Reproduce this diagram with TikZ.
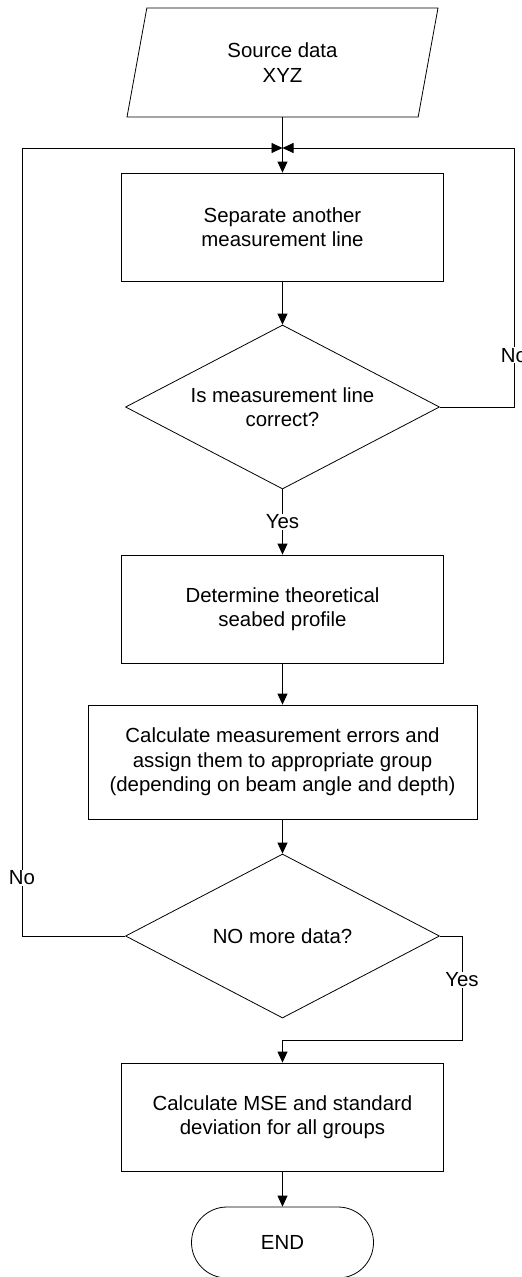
\documentclass[tikz,border=0pt]{standalone}
\usepackage{fontspec}
\setmainfont{Liberation Sans}
\usetikzlibrary{arrows.meta, shapes.geometric}

\begin{document}
\begin{tikzpicture}[x=1pt,y=-1pt,
        every node/.style={font=\fontsize{20.4}{24.5}\selectfont,align=center},
        proc/.style={rectangle,draw,line width=0.8pt,inner sep=0pt,
                     minimum width=322pt,minimum height=108pt},
        decision/.style={diamond,aspect=1.91,draw,line width=0.8pt,inner sep=0pt,
                         minimum width=314pt,minimum height=164pt},
        io/.style={trapezium,trapezium left angle=63.2,trapezium right angle=116.8,
                   trapezium stretches body,draw,line width=0.8pt,inner sep=0pt,
                   minimum width=311pt,minimum height=109pt},
        term/.style={rectangle,rounded corners=35.5pt,draw,line width=0.8pt,
                     inner sep=0pt,minimum width=182pt,minimum height=71pt},
        flow/.style={draw,line width=0.8pt,-{Triangle[length=11pt,width=10pt]}},
        lbl/.style={fill=white,inner sep=1pt}
      ]
        \useasboundingbox (0,0) rectangle (522,1277);
        \node[io] (src) at (282.5,62.5) {Source data\\XYZ};
        \node[proc] (sep) at (282.5,227) {Separate another\\measurement line};
        \node[decision] (chk) at (282.5,407) {Is measurement line\\correct?};
        \node[proc] (prof) at (282.5,609) {Determine theoretical\\seabed profile};
        \node[proc,minimum width=389pt,minimum height=114pt] (err) at (282.5,762)
          {Calculate measurement errors and\\assign them to appropriate group\\(depending on beam angle and depth)};
        \node[decision] (more) at (282.5,936) {NO more data?};
        \node[proc] (mse) at (282.5,1117) {Calculate MSE and standard\\deviation for all groups};
        \node[term] (stop) at (282.5,1242.5) {END};
        % loop corners
        \coordinate (jn) at (282.5,148);
        \coordinate (noR) at (514,148);
        \coordinate (noL) at (22,148);
        \coordinate (yesR) at (462,1040);
        \draw[flow] (sep.north |- src.south) -- (sep.north);
        \draw[flow] (sep) -- (chk);
        \draw[flow] (chk) -- node[lbl]{Yes} (prof);
        \draw[flow] (chk.east) -| node[lbl,pos=0.6]{No} (noR) -- (jn);
        \draw[flow] (prof) -- (err);
        \draw[flow] (err) -- (more);
        \draw[flow] (more.west) -| node[lbl,pos=0.537]{No} (noL) -- (jn);
        \draw[flow] (more.east) -| node[lbl,pos=0.71]{Yes} (yesR) -| (mse.north);
        \draw[flow] (mse) -- (stop);
      \end{tikzpicture}
\end{document}
